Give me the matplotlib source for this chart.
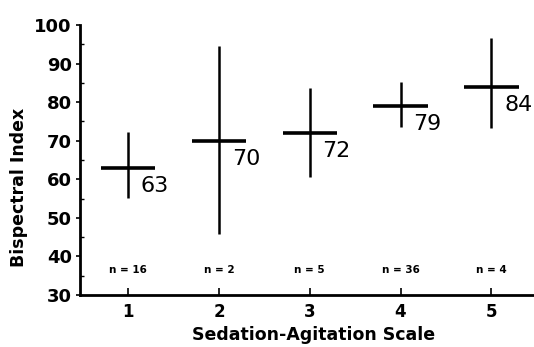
import matplotlib.pyplot as plt
import numpy as np

# data
scale = [1, 2, 3, 4, 5]
bis_mean = [63, 70, 72, 79, 84]
bis_high = [72.3, 94.6, 83.7, 85.2, 96.6]
bis_low = [55.1, 45.8, 60.6, 73.6, 73.3]
n_labels = ["n = 16", "n = 2", "n = 5", "n = 36", "n = 4"]

plt.rcParams['font.family'] = ['DejaVu Sans']

fig = plt.figure(figsize=(5.34, 3.47), dpi=100)
ax = fig.add_axes([0.150, 0.150, 0.85, 0.778])

x = np.array(scale)
half = 0.3
ax.vlines(x, bis_low, bis_high, color='black', lw=1.8)
ax.hlines(bis_mean, x - half, x + half, color='black', lw=2.6)

for xi, m in zip(x, bis_mean):
    ax.text(xi + 0.14, m - 4.8, str(m), ha='left', va='center', fontsize=16)

for xi, t in zip(x, n_labels):
    ax.text(xi, 36.5, t, ha='center', va='center', fontsize=7.5, fontweight='bold')

ax.set_xlim(0.47, 5.47)
ax.set_ylim(30, 100)
ax.set_xticks(scale)
ax.set_yticks(np.arange(30, 101, 10))
ax.set_yticks(np.arange(35, 100, 10), minor=True)

for s in ['top', 'right']:
    ax.spines[s].set_visible(False)
for s in ['left', 'bottom']:
    ax.spines[s].set_linewidth(2)

ax.tick_params(axis='x', direction='in', length=5, width=1.2, labelsize=12, pad=6)
ax.tick_params(axis='y', direction='out', length=3, width=1.2, labelsize=13, pad=3)
ax.tick_params(axis='y', which='minor', direction='in', length=3, width=1)
for lbl in ax.get_xticklabels() + ax.get_yticklabels():
    lbl.set_fontweight('bold')

ax.set_xlabel("Sedation-Agitation Scale", fontsize=12.5, fontweight='bold')
ax.set_ylabel("Bispectral Index", fontsize=12.5, fontweight='bold')
ax.xaxis.set_label_coords(0.515, -0.115)
ax.yaxis.set_label_coords(-0.115, 0.40)

plt.savefig("out.png", dpi=100)
